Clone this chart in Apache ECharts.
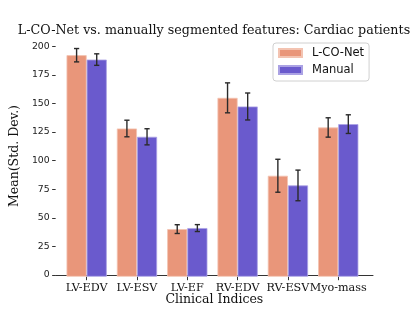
<!DOCTYPE html>
<html>
<head>
<meta charset="utf-8">
<script src="https://cdn.jsdelivr.net/npm/echarts@6/dist/echarts.min.js"></script>
<style>html,body{margin:0;padding:0;background:#fff;}#c{width:415px;height:311px;}</style>
</head>
<body>
<div id="c"></div>
<script>
const categories = ['LV-EDV', 'LV-ESV', 'LV-EF', 'RV-EDV', 'RV-ESV', 'Myo-mass'];
const lconetMean = [192.2, 128.6, 41.3, 155.2, 87.6, 129.5];
const lconetStd = [5.8, 7.2, 3.8, 13.0, 14.3, 8.4];
const manualMean = [188.4, 121.4, 42.2, 147.7, 79.2, 132.4];
const manualStd = [5.0, 7.0, 3.0, 11.7, 13.3, 8.1];
const yTicks = [0, 25, 50, 75, 100, 125, 150, 175, 200];
const seriesNames = ['L-CO-Net', 'Manual'];

const SERIF = 'DejaVu Serif';
const SANS = 'DejaVu Sans';
const Y_MAX = 208;

function errData(means, stds) {
  return means.map((m, i) => [i, m, stds[i]]);
}
function errRender(side) {
  return function (params, api) {
    const i = api.value(0), m = api.value(1), s = api.value(2);
    const band = api.size([1, 0])[0];
    const off = side * band * 0.2;
    const top = api.coord([i, m + s]);
    const bot = api.coord([i, m - s]);
    const x = top[0] + off;
    const cap = 2.6;
    const st = { stroke: '#2a2a2a', lineWidth: 1.4 };
    return {
      type: 'group',
      children: [
        { type: 'line', shape: { x1: x, y1: top[1], x2: x, y2: bot[1] }, style: st },
        { type: 'line', shape: { x1: x - cap, y1: top[1], x2: x + cap, y2: top[1] }, style: st },
        { type: 'line', shape: { x1: x - cap, y1: bot[1], x2: x + cap, y2: bot[1] }, style: st }
      ]
    };
  };
}

const chart = echarts.init(document.getElementById('c'), null, { renderer: 'canvas' });
chart.setOption({
  animation: false,
  backgroundColor: '#fff',
  title: {
    text: 'L-CO-Net vs. manually segmented features: Cardiac patients',
    left: 209, top: 19, textAlign: 'center',
    textStyle: { fontFamily: SERIF, fontSize: 12.7, fontWeight: 'normal', color: '#111' }
  },
  legend: {
    data: seriesNames,
    orient: 'vertical',
    left: 273, top: 43,
    itemWidth: 23, itemHeight: 8, itemGap: 5,
    icon: 'rect',
    padding: [4, 5, 5, 5],
    borderColor: '#d0d0d0', borderWidth: 1, borderRadius: 3,
    backgroundColor: '#fff',
    textStyle: { fontFamily: SANS, fontSize: 11.5, color: '#111', lineHeight: 12, padding: [0, 0, 0, 5] }
  },
  grid: [
    { left: 61.5, right: 51.6, top: 37, bottom: 34.3 },
    { left: 51.5, right: 42, top: 37, bottom: 34.3 }
  ],
  xAxis: [
    {
      type: 'category', gridIndex: 0, data: categories,
      axisLine: { show: false },
      axisTick: { show: true, alignWithLabel: true, length: 3.5, interval: 0, lineStyle: { color: '#333' } },
      axisLabel: { fontFamily: SERIF, fontSize: 11.2, color: '#111', margin: 5.5, interval: 0, hideOverlap: false }
    },
    {
      type: 'value', gridIndex: 1, min: 0, max: 1,
      name: 'Clinical Indices', nameLocation: 'middle', nameGap: 18,
      nameTextStyle: { fontFamily: SERIF, fontSize: 12.5, color: '#111' },
      axisLine: { show: true, lineStyle: { color: '#333', width: 1 } },
      axisTick: { show: false }, axisLabel: { show: false }, splitLine: { show: false }
    }
  ],
  yAxis: [
    {
      type: 'value', gridIndex: 0, min: 0, max: Y_MAX,
      axisLine: { show: false }, axisTick: { show: false }, axisLabel: { show: false }, splitLine: { show: false }
    },
    {
      type: 'value', gridIndex: 1, min: 0, max: Y_MAX,
      name: 'Mean(Std. Dev.)', nameLocation: 'middle', nameGap: 25, nameRotate: 90,
      nameTextStyle: { fontFamily: SERIF, fontSize: 12.5, color: '#111' },
      axisLine: { show: false },
      axisTick: { show: true, length: 3.5, customValues: yTicks, lineStyle: { color: '#333' } },
      axisLabel: { fontFamily: SANS, fontSize: 9.3, color: '#222', margin: 6, customValues: yTicks },
      splitLine: { show: false }
    }
  ],
  series: [
    {
      name: seriesNames[0], type: 'bar', xAxisIndex: 0, yAxisIndex: 0,
      data: lconetMean, barWidth: '40%', barGap: '0%',
      itemStyle: { color: '#E9967A', borderColor: '#F3C3B1', borderWidth: 0.8 }
    },
    {
      name: seriesNames[1], type: 'bar', xAxisIndex: 0, yAxisIndex: 0,
      data: manualMean, barWidth: '40%', barGap: '0%',
      itemStyle: { color: '#6A5ACD', borderColor: '#ABA2E4', borderWidth: 0.8 }
    },
    {
      type: 'custom', xAxisIndex: 0, yAxisIndex: 0, z: 10, clip: false,
      data: errData(lconetMean, lconetStd), encode: { x: 0, y: 1 },
      renderItem: errRender(-1)
    },
    {
      type: 'custom', xAxisIndex: 0, yAxisIndex: 0, z: 10, clip: false,
      data: errData(manualMean, manualStd), encode: { x: 0, y: 1 },
      renderItem: errRender(1)
    }
  ]
});
</script>
</body>
</html>
